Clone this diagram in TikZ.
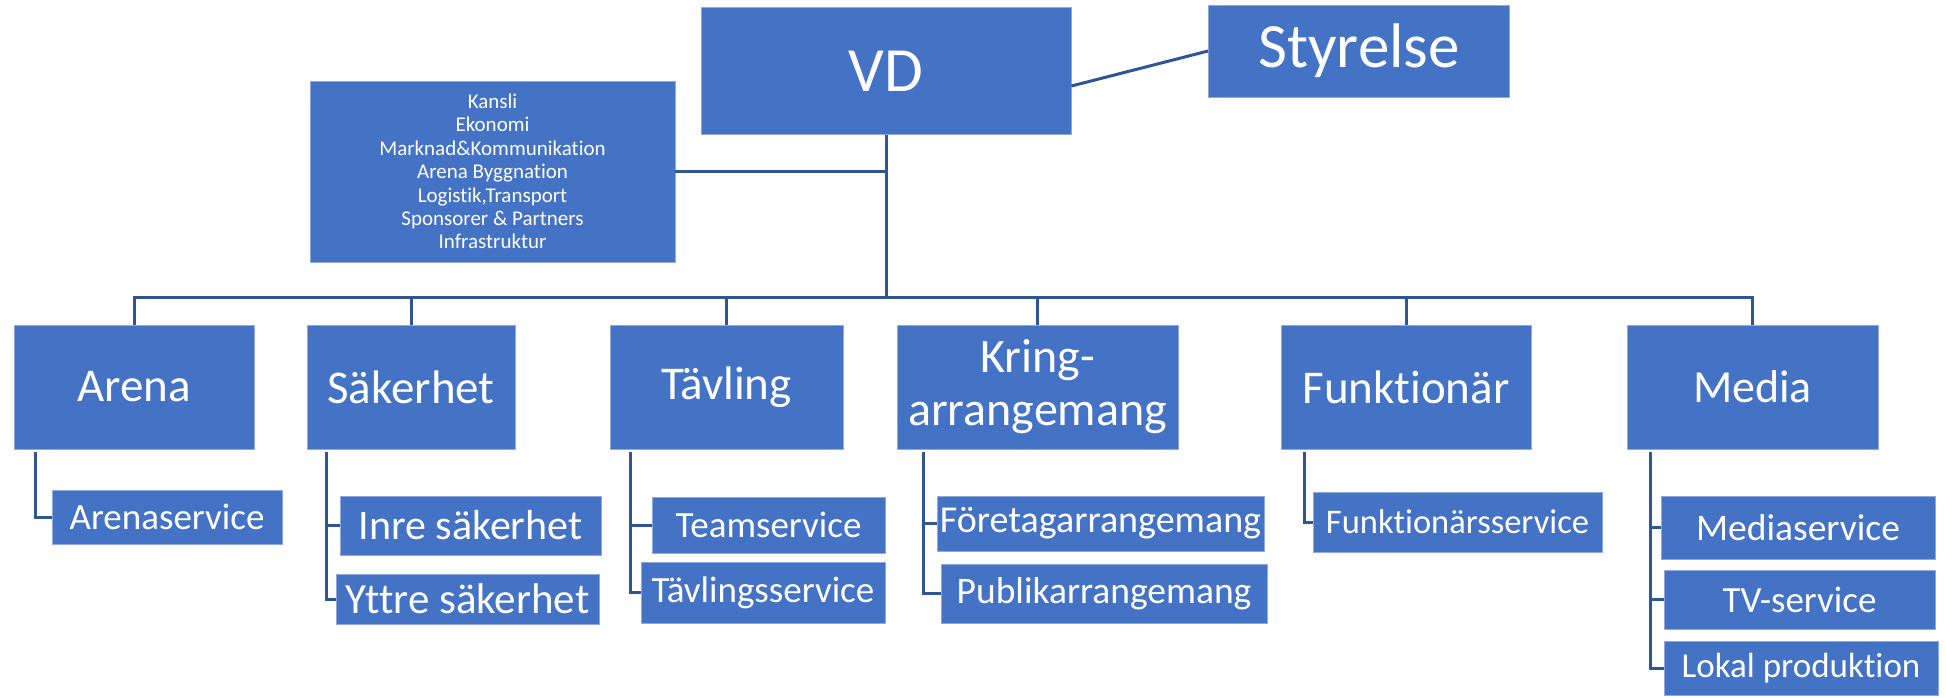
\documentclass[tikz,border=0pt]{standalone}
\usepackage{fontspec}
\setmainfont[Ligatures=NoCommon]{Carlito}
\definecolor{boxblue}{RGB}{68,114,196}
\definecolor{boxedge}{RGB}{143,170,220}
\definecolor{linkblue}{RGB}{47,85,151}
\begin{document}
\begin{tikzpicture}[x=1pt,y=-1pt,
    box/.style={fill=boxblue,draw=boxedge,line width=0.8pt,text=white,inner sep=0pt,align=center},
    sz/.style={font=\fontsize{#1}{#1}\selectfont},
    head/.style={box,minimum height=124pt,sz=47},
    link/.style={draw=linkblue,line width=3pt}]
    \useasboundingbox (0,0) rectangle (1946,697);
    % top
    \node[box,minimum width=370pt,minimum height=127pt,sz=63] (vd) at (886,71) {VD};
    \node[box,minimum width=301pt,minimum height=92pt,sz=63] (styr) at (1359,51) {Styrelse};
    \node[box,minimum width=365pt,minimum height=181pt,font=\fontsize{21}{23.4}\selectfont] (kansli) at (492.5,171.5)
         {Kansli\\Ekonomi\\Marknad\&Kommunikation\\Arena Byggnation\\Logistik,Transport\\Sponsorer \& Partners\\Infrastruktur};
    \coordinate (bar) at (886,297);
    % avdelningar
    \node[head,minimum width=240pt] (arena) at (134,387) {Arena};
    \node[head,minimum width=208pt] (sak) at (411,387) {Säkerhet};
    \node[head,minimum width=233pt] (tav) at (726.5,387) {Tävling};
    \node[head,minimum width=281pt,font=\fontsize{48}{53}\selectfont] (kring) at (1037.5,387) {Kring-\\arrangemang};
    \node[head,minimum width=250pt] (funk) at (1406,387) {Funktionär};
    \node[head,minimum width=251pt,sz=46] (media) at (1752.5,387) {Media};
    % grupper
    \node[box,minimum width=230pt,minimum height=54pt,sz=37] (arsv) at (167,517) {Arenaservice};
    \node[box,minimum width=261pt,minimum height=59pt,sz=42] (inre) at (470.5,525.5) {Inre säkerhet};
    \node[box,minimum width=263pt,minimum height=50pt,sz=43] (yttre) at (467.5,599) {Yttre säkerhet};
    \node[box,minimum width=233pt,minimum height=56pt,sz=37] (team) at (768.5,525) {Teamservice};
    \node[box,minimum width=244pt,minimum height=61pt,sz=37] (tsv) at (763,592.5) {Tävlingsservice};
    \node[box,minimum width=327pt,minimum height=55pt,sz=38] (foret) at (1100.5,523.5) {Företagarrangemang};
    \node[box,minimum width=326pt,minimum height=59pt,sz=37.5] (publ) at (1104,593.5) {Publikarrangemang};
    \node[box,minimum width=289pt,minimum height=60pt,sz=34.5] (fsv) at (1457.5,522) {Funktionärsservice};
    \node[box,minimum width=274pt,minimum height=63pt,sz=37.5] (msv) at (1798,527.5) {Mediaservice};
    \node[box,minimum width=271pt,minimum height=59pt,sz=37] (tv) at (1799.5,599.5) {TV-service};
    \node[box,minimum width=274pt,minimum height=54pt,sz=35] (lokal) at (1801,668) {Lokal produktion};
    % linjer
    \draw[link] ([yshift=-15pt]vd.east) -- (styr.west);
    \draw[link] (vd.south) -- (bar);
    \draw[link] (kansli.east) -- (kansli.east -| vd.south);
    \draw[link] (arena.north) |- (bar) -| (media.north);
    \foreach \n in {sak,tav,kring,funk}
      \draw[link] (\n.north) -- (\n.north |- bar);
    \draw[link] ([xshift=22pt,yshift=-3pt]arena.south west) |- (arsv.west);
    \draw[link] ([xshift=20pt,yshift=-3pt]sak.south west) |- (inre.west);
    \draw[link] ([xshift=20pt,yshift=-3pt]sak.south west) |- (yttre.west);
    \draw[link] ([xshift=21pt,yshift=-3pt]tav.south west) |- (team.west);
    \draw[link] ([xshift=21pt,yshift=-3pt]tav.south west) |- (tsv.west);
    \draw[link] ([xshift=27pt,yshift=-3pt]kring.south west) |- (foret.west);
    \draw[link] ([xshift=27pt,yshift=-3pt]kring.south west) |- (publ.west);
    \draw[link] ([xshift=24pt,yshift=-3pt]funk.south west) |- (fsv.west);
    \draw[link] ([xshift=24pt,yshift=-3pt]media.south west) |- (msv.west);
    \draw[link] ([xshift=24pt,yshift=-3pt]media.south west) |- (tv.west);
    \draw[link] ([xshift=24pt,yshift=-3pt]media.south west) |- (lokal.west);
\end{tikzpicture}
\end{document}
